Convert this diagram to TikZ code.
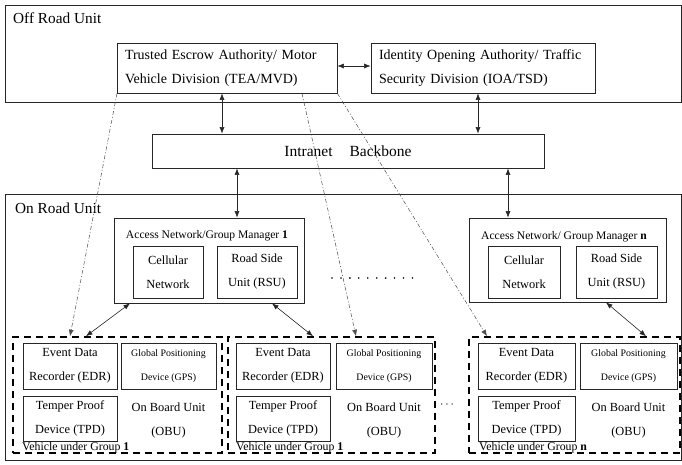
\documentclass[tikz,border=0pt]{standalone}
\usepackage{fontspec}
\setmainfont{Liberation Serif}
\usetikzlibrary{arrows.meta}
\begin{document}
\begin{tikzpicture}[x=1pt,y=-1pt,
  box/.style={draw=black!85, line width=0.8pt, inner sep=0pt, align=center},
  txtbox/.style={draw=black!85, line width=0.8pt, inner xsep=8pt, inner ysep=0pt, align=left},
  grp/.style={draw=black, line width=1.6pt, dash pattern=on 7pt off 5pt, inner sep=0pt},
  dual/.style={{Latex[length=6.5pt,width=5pt]}-{Latex[length=6.5pt,width=5pt]}, line width=0.6pt, black!85},
  dashdot/.style={-{Latex[length=6.5pt,width=5pt]}, line width=0.5pt, black!70, dash pattern=on 4pt off 2pt on 1pt off 2pt},
  title/.style={font=\fontsize{15.3}{18}\selectfont, anchor=base west, inner sep=0pt},
  big/.style={font=\fontsize{14}{24}\selectfont},
  mid/.style={font=\fontsize{12.4}{24}\selectfont},
  small/.style={font=\fontsize{9.9}{24}\selectfont},
  grplab/.style={font=\fontsize{11.8}{13}\selectfont, anchor=base west, inner sep=0pt}
]
\useasboundingbox (0,0) rectangle (682,464);

% outer units
\node[box, minimum width=676, minimum height=97] (offroad) at (343,53.5) {};
\node[title] (offlab) at (13,23) {Off Road Unit};
\node[box, minimum width=676, minimum height=266] (onroad) at (343,327) {};
\node[title] (onlab) at (15,213) {On Road Unit};

% authorities
\node[txtbox, big, text width=204, minimum height=50] (tea) at (227,68)
  {Trusted Escrow Authority/ Motor\\Vehicle Division (TEA/MVD)};
\node[txtbox, big, text width=208, minimum height=50] (ioa) at (483,68)
  {Identity Opening Authority/ Traffic\\Security Division (IOA/TSD)};
\node[box, font=\fontsize{15.5}{18}\selectfont, minimum width=392, minimum height=34] (net) at (348,151)
  {Intranet\hspace{17pt}Backbone};

% access network / group managers
\node[box, minimum width=190, minimum height=85] (ag1) at (209,260.5) {};
\node[font=\fontsize{11.6}{14}\selectfont, inner sep=0pt] (ag1t) at (207,236) {Access Network/Group Manager \textbf{1}};
\node[box, mid, minimum width=70, minimum height=52] (cell1) at (168,272) {Cellular\\Network};
\node[box, mid, minimum width=80, minimum height=52] (rsu1) at (257,272) {Road Side\\Unit (RSU)};

\node[box, minimum width=197, minimum height=84] (agn) at (567.5,260) {};
\node[font=\fontsize{11.6}{14}\selectfont, inner sep=0pt] (agnt) at (564,237) {Access Network/ Group Manager \textbf{n}};
\node[box, mid, minimum width=72, minimum height=52] (celln) at (524,272) {Cellular\\Network};
\node[box, mid, minimum width=81, minimum height=52] (rsun) at (616.5,272) {Road Side\\Unit (RSU)};

\coordinate (dotsA) at (332,278);
\coordinate (dotsB) at (412.5,278);
\draw[line width=1.8pt, line cap=round, dash pattern=on 0pt off 8.94pt] (dotsA) -- (dotsB);

% vehicle groups
\node[grp, minimum width=209, minimum height=116] (g1) at (117.5,395) {};
\node[grp, minimum width=207, minimum height=116] (g2) at (331.5,395) {};
\node[grp, minimum width=211, minimum height=116] (gn) at (574.5,395) {};

\node[box, mid, minimum width=94, minimum height=46] (edr1) at (70,366) {Event Data\\Recorder (EDR)};
\node[box, small, minimum width=95, minimum height=46] (gps1) at (168.5,366) {Global Positioning\\Device (GPS)};
\node[box, mid, minimum width=94, minimum height=45] (tpd1) at (70,418.5) {Temper Proof\\Device (TPD)};
\node[mid, align=center, inner sep=0pt] (obu1) at (168.5,421) {On Board Unit\\(OBU)};
\node[grplab] (g1lab) at (22,450) {Vehicle under Group \textbf{1}};

\node[box, mid, minimum width=94, minimum height=46] (edr2) at (283,366) {Event Data\\Recorder (EDR)};
\node[box, small, minimum width=96, minimum height=46] (gps2) at (384,366) {Global Positioning\\Device (GPS)};
\node[box, mid, minimum width=94, minimum height=45] (tpd2) at (283,418.5) {Temper Proof\\Device (TPD)};
\node[mid, align=center, inner sep=0pt] (obu2) at (384,421) {On Board Unit\\(OBU)};
\node[grplab] (g2lab) at (236,450) {Vehicle under Group \textbf{1}};

\node[box, mid, minimum width=97, minimum height=46] (edrn) at (526.5,366) {Event Data\\Recorder (EDR)};
\node[box, small, minimum width=97, minimum height=46] (gpsn) at (628.5,366) {Global Positioning\\Device (GPS)};
\node[box, mid, minimum width=97, minimum height=45] (tpdn) at (526.5,418.5) {Temper Proof\\Device (TPD)};
\node[mid, align=center, inner sep=0pt] (obun) at (628.5,421) {On Board Unit\\(OBU)};
\node[grplab] (gnlab) at (479,450) {Vehicle under Group \textbf{n}};

\node[font=\fontsize{12}{14}\selectfont, inner sep=0pt] (gdots) at (447,405) {$\cdots$};

% solid connectors
\draw[dual] (tea.east |- 0,66) -- (ioa.west |- 0,66);
\draw[dual] ([xshift=-5pt]tea.south) -- ([xshift=-5pt]tea.south |- net.north);
\draw[dual] ([xshift=-5pt]ioa.south) -- ([xshift=-5pt]ioa.south |- net.north);
\draw[dual] ([xshift=-111pt]net.south) -- ([xshift=-111pt]net.south |- ag1.north);
\draw[dual] ([xshift=160pt]net.south) -- ([xshift=160pt]net.south |- agn.north);
\draw[dual] ([xshift=-79pt]ag1.south) -- ([xshift=-31.5pt]g1.north);
\draw[dual] ([xshift=63pt]ag1.south) -- ([xshift=-18.5pt]g2.north);
\draw[dual] ([xshift=38.5pt]agn.south) -- ([xshift=71.5pt]gn.north);

% dash-dot connectors
\draw[dashdot] ([xshift=-110pt]tea.south) -- ([xshift=-47.5pt]g1.north);
\draw[dashdot] ([xshift=75pt]tea.south) -- ([xshift=24.5pt]g2.north);
\draw[dashdot] (tea.south east) -- ([xshift=-87.5pt]gn.north);
\end{tikzpicture}
\end{document}
